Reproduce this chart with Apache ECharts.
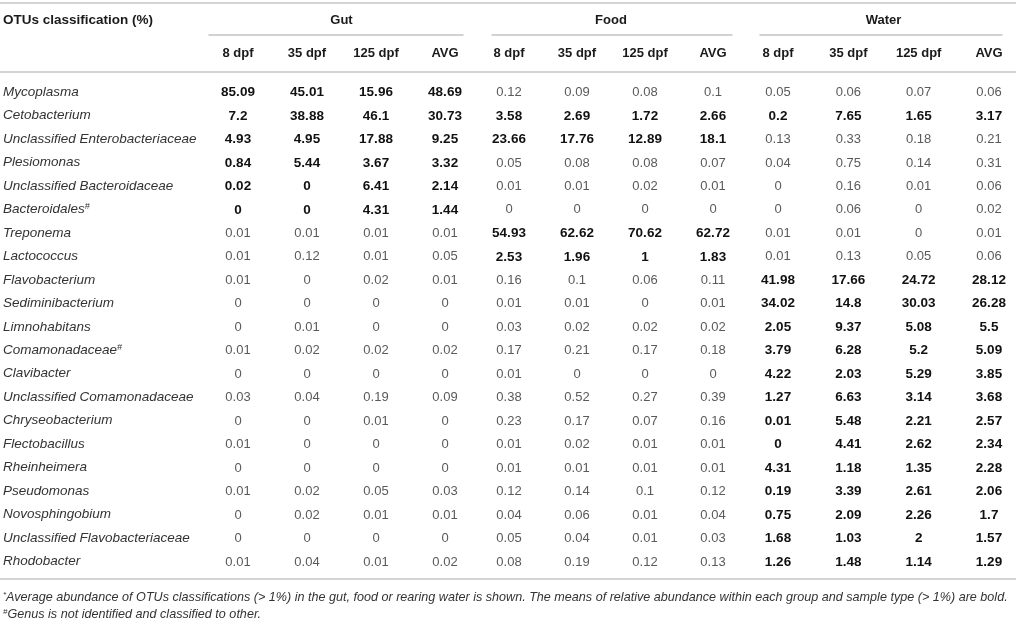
<!DOCTYPE html>
<html><head><meta charset="utf-8">
<script src="https://cdn.jsdelivr.net/npm/echarts@6/dist/echarts.min.js"></script>
<style>html,body{margin:0;padding:0;background:#fff}#c{width:1016px;height:620px}</style>
</head><body><div id="c"></div>
<script>
// ---------- data ----------
const headerTitle = 'OTUs classification (%)';
const groups = ['Gut', 'Food', 'Water'];
const timepoints = ['8 dpf', '35 dpf', '125 dpf', 'AVG'];
const taxa = [
  'Mycoplasma', 'Cetobacterium', 'Unclassified Enterobacteriaceae', 'Plesiomonas',
  'Unclassified Bacteroidaceae', 'Bacteroidales#', 'Treponema', 'Lactococcus',
  'Flavobacterium', 'Sediminibacterium', 'Limnohabitans', 'Comamonadaceae#',
  'Clavibacter', 'Unclassified Comamonadaceae', 'Chryseobacterium', 'Flectobacillus',
  'Rheinheimera', 'Pseudomonas', 'Novosphingobium', 'Unclassified Flavobacteriaceae',
  'Rhodobacter'
];
const gut = [
  [85.09, 45.01, 15.96, 48.69], [7.2, 38.88, 46.1, 30.73], [4.93, 4.95, 17.88, 9.25],
  [0.84, 5.44, 3.67, 3.32], [0.02, 0, 6.41, 2.14], [0, 0, 4.31, 1.44],
  [0.01, 0.01, 0.01, 0.01], [0.01, 0.12, 0.01, 0.05], [0.01, 0, 0.02, 0.01],
  [0, 0, 0, 0], [0, 0.01, 0, 0], [0.01, 0.02, 0.02, 0.02],
  [0, 0, 0, 0], [0.03, 0.04, 0.19, 0.09], [0, 0, 0.01, 0],
  [0.01, 0, 0, 0], [0, 0, 0, 0], [0.01, 0.02, 0.05, 0.03],
  [0, 0.02, 0.01, 0.01], [0, 0, 0, 0], [0.01, 0.04, 0.01, 0.02]
];
const food = [
  [0.12, 0.09, 0.08, 0.1], [3.58, 2.69, 1.72, 2.66], [23.66, 17.76, 12.89, 18.1],
  [0.05, 0.08, 0.08, 0.07], [0.01, 0.01, 0.02, 0.01], [0, 0, 0, 0],
  [54.93, 62.62, 70.62, 62.72], [2.53, 1.96, 1, 1.83], [0.16, 0.1, 0.06, 0.11],
  [0.01, 0.01, 0, 0.01], [0.03, 0.02, 0.02, 0.02], [0.17, 0.21, 0.17, 0.18],
  [0.01, 0, 0, 0], [0.38, 0.52, 0.27, 0.39], [0.23, 0.17, 0.07, 0.16],
  [0.01, 0.02, 0.01, 0.01], [0.01, 0.01, 0.01, 0.01], [0.12, 0.14, 0.1, 0.12],
  [0.04, 0.06, 0.01, 0.04], [0.05, 0.04, 0.01, 0.03], [0.08, 0.19, 0.12, 0.13]
];
const water = [
  [0.05, 0.06, 0.07, 0.06], [0.2, 7.65, 1.65, 3.17], [0.13, 0.33, 0.18, 0.21],
  [0.04, 0.75, 0.14, 0.31], [0, 0.16, 0.01, 0.06], [0, 0.06, 0, 0.02],
  [0.01, 0.01, 0, 0.01], [0.01, 0.13, 0.05, 0.06], [41.98, 17.66, 24.72, 28.12],
  [34.02, 14.8, 30.03, 26.28], [2.05, 9.37, 5.08, 5.5], [3.79, 6.28, 5.2, 5.09],
  [4.22, 2.03, 5.29, 3.85], [1.27, 6.63, 3.14, 3.68], [0.01, 5.48, 2.21, 2.57],
  [0, 4.41, 2.62, 2.34], [4.31, 1.18, 1.35, 2.28], [0.19, 3.39, 2.61, 2.06],
  [0.75, 2.09, 2.26, 1.7], [1.68, 1.03, 2, 1.57], [1.26, 1.48, 1.14, 1.29]
];
const footnote1 = 'Average abundance of OTUs classifications (> 1%) in the gut, food or rearing water is shown. The means of relative abundance within each group and sample type (> 1%) are bold.';
const footnote2 = 'Genus is not identified and classified to other.';
const boldThreshold = 1;

// ---------- layout ----------
const W = 1016, H = 620;
const FONT = "'Liberation Sans', Arial, Helvetica, sans-serif";
const rowsTop = 92, rowsBottom = H - 561.5;
const valueCols = [[238, 445], [509, 713], [778, 989]];   // first / last column centre
const groupRules = [[209, 463], [492, 732], [760, 1002]];
const ruleStyle = { color: '#c4c4c4', width: 1.5 };

const groupData = [gut, food, water];
const grid = [{ left: 0, right: 0, top: rowsTop, bottom: rowsBottom }];
valueCols.forEach(c => grid.push({ left: c[0], right: W - c[1], top: rowsTop, bottom: rowsBottom }));
groupRules.forEach(c => grid.push({ left: c[0], right: W - c[1], top: rowsTop, bottom: rowsBottom }));

function ruleAxis(gridIndex, position, offset) {
  return {
    type: 'value', gridIndex, position, offset,
    axisLine: { show: true, onZero: false, lineStyle: ruleStyle },
    axisTick: { show: false }, axisLabel: { show: false }, splitLine: { show: false }
  };
}
const hiddenValueY = gi => ({ type: 'value', gridIndex: gi, show: false, splitLine: { show: false } });

const xAxis = [
  ruleAxis(0, 'top', rowsTop - 72),
  ruleAxis(0, 'top', rowsTop - 3),
  ruleAxis(0, 'bottom', 579 - (H - rowsBottom))
];
groups.forEach((g, i) => xAxis.push({
  type: 'category', gridIndex: 1 + i, position: 'top', data: timepoints, boundaryGap: false,
  name: g, nameLocation: 'middle', nameGap: 65,
  nameTextStyle: { fontFamily: FONT, fontSize: 13, fontWeight: 'bold', color: '#1a1a1a' },
  axisLine: { show: false }, axisTick: { show: false }, splitLine: { show: false },
  axisLabel: { interval: 0, margin: 32, fontFamily: FONT, fontSize: 13, fontWeight: 'bold', color: '#1a1a1a' }
}));
groups.forEach((g, i) => xAxis.push(ruleAxis(4 + i, 'top', rowsTop - 35)));

const yAxis = [{
  type: 'category', gridIndex: 0, data: taxa, inverse: true, boundaryGap: false,
  axisLine: { show: false }, axisTick: { show: false }, splitLine: { show: false },
  axisLabel: {
    inside: true, margin: 3, interval: 0,
    formatter: n => n.endsWith('#') ? '{it|' + n.slice(0, -1) + '}{sup|#}' : '{it|' + n + '}',
    rich: {
      it: { fontFamily: FONT, fontSize: 13.5, fontStyle: 'italic', color: '#333' },
      sup: { fontFamily: FONT, fontSize: 9, fontStyle: 'italic', color: '#333', verticalAlign: 'top' }
    }
  }
}];
groups.forEach((g, i) => yAxis.push({
  type: 'category', gridIndex: 1 + i, data: taxa, inverse: true, boundaryGap: false, show: false
}));
groups.forEach((g, i) => yAxis.push(hiddenValueY(4 + i)));

const series = groupData.map((vals, gi) => {
  const data = [];
  vals.forEach((row, r) => row.forEach((v, c) => data.push([c, r, v])));
  return {
    type: 'custom', name: groups[gi], xAxisIndex: 3 + gi, yAxisIndex: 1 + gi,
    data, clip: false,
    renderItem: (params, api) => {
      const c = api.value(0), r = api.value(1);
      const p = api.coord([c, r]);
      const v = vals[r][c];
      const bold = vals[r][3] > boldThreshold;
      return {
        type: 'text', x: p[0], y: p[1] + 0.5,
        style: {
          text: String(v), align: 'center', verticalAlign: 'middle',
          fontFamily: FONT, fontSize: bold ? 13.5 : 13, fontWeight: bold ? 'bold' : 'normal',
          fill: bold ? '#111' : '#5a5a5a'
        }
      };
    }
  };
});

const footStyle = {
  fontFamily: FONT, fontSize: 12.6, fontStyle: 'italic', fontWeight: 'normal', color: '#333',
  rich: { s: { fontFamily: FONT, fontSize: 8, fontStyle: 'italic', fontWeight: 'normal', color: '#333', verticalAlign: 'top' } }
};
const title = [
  { text: headerTitle, left: 3, top: 13, padding: 0,
    textStyle: { fontFamily: FONT, fontSize: 13.5, fontWeight: 'bold', color: '#1a1a1a' } },
  { text: '{s|*}' + footnote1, left: 3, top: 591, padding: 0, textStyle: footStyle },
  { text: '{s|#}' + footnote2, left: 3, top: 608, padding: 0, textStyle: footStyle }
];

const chart = echarts.init(document.getElementById('c'), null, { renderer: 'canvas' });
chart.setOption({ animation: false, backgroundColor: '#fff', title, grid, xAxis, yAxis, series });
</script></body></html>
